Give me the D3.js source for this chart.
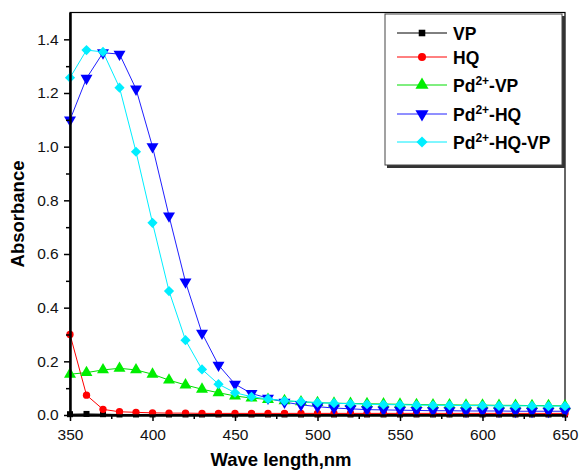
<!DOCTYPE html>
<html><head><meta charset="utf-8">
<script src="https://cdn.jsdelivr.net/npm/d3@7/dist/d3.min.js"></script>
<style>body{margin:0;background:#fff}svg{display:block}</style>
</head><body><svg id="c" width="580" height="471"></svg>
<script>
const wavelengths = [350,360,370,380,390,400,410,420,430,440,450,460,470,480,490,500,510,520,530,540,550,560,570,580,590,600,610,620,630,640,650];
const vp      = [0.003,0.004,0.003,0.002,0.002,0.002,0.002,0.002,0.002,0.002,0.002,0.002,0.002,0.002,0.002,0.002,0.002,0.002,0.002,0.002,0.002,0.002,0.002,0.002,0.002,0.002,0.002,0.002,0.002,0.002,0.002];
const hq      = [0.30,0.074,0.021,0.012,0.010,0.008,0.007,0.007,0.006,0.006,0.006,0.006,0.006,0.006,0.006,0.006,0.006,0.006,0.006,0.006,0.006,0.006,0.006,0.006,0.006,0.006,0.006,0.006,0.006,0.006,0.006];
const pdVp    = [0.152,0.158,0.168,0.174,0.168,0.152,0.130,0.112,0.096,0.083,0.071,0.063,0.058,0.053,0.049,0.046,0.044,0.043,0.042,0.041,0.040,0.039,0.038,0.038,0.037,0.037,0.036,0.036,0.035,0.035,0.034];
const pdHq    = [1.10,1.255,1.35,1.345,1.215,1.00,0.742,0.496,0.305,0.186,0.115,0.080,0.063,0.048,0.038,0.031,0.026,0.023,0.020,0.019,0.018,0.017,0.016,0.016,0.015,0.015,0.015,0.014,0.014,0.014,0.014];
const pdHqVp  = [1.257,1.36,1.353,1.22,0.981,0.716,0.462,0.279,0.170,0.115,0.083,0.068,0.060,0.053,0.050,0.046,0.044,0.042,0.040,0.039,0.038,0.037,0.036,0.036,0.035,0.035,0.034,0.034,0.034,0.033,0.033];
const seriesNames = ["VP","HQ","Pd2+-VP","Pd2+-HQ","Pd2+-HQ-VP"];
const xTicks = [350,400,450,500,550,600,650];
const yTicks = [0.0,0.2,0.4,0.6,0.8,1.0,1.2,1.4];

const series = [
  {name:seriesNames[0], vals:vp, color:"#000000", line:"#000000", sym:d3.symbolSquare, size:36, rot:0},
  {name:seriesNames[1], vals:hq, color:"#ff0000", line:"#ff0000", sym:d3.symbolCircle, size:42, rot:0},
  {name:seriesNames[2], vals:pdVp, color:"#00ee00", line:"#00dd00", sym:d3.symbolTriangle, size:62, rot:0},
  {name:seriesNames[3], vals:pdHq, color:"#0000ff", line:"#2020ff", sym:d3.symbolTriangle, size:62, rot:180},
  {name:seriesNames[4], vals:pdHqVp, color:"#00eeff", line:"#00eeff", sym:d3.symbolSquare, size:52, rot:45}
];

const svg = d3.select("#c");
const L=70, R=565, T=12.5, B=415;
const x = d3.scaleLinear().domain([350,650]).range([L,R]);
const y = d3.scaleLinear().domain([0,1.5]).range([B,T]);
const font = "'Liberation Sans', Arial, sans-serif";

svg.append("rect").attr("x",L).attr("y",T).attr("width",R-L).attr("height",B-T)
  .attr("fill","none").attr("stroke","#000").attr("stroke-width",1.2);

const g = svg.append("g");
series.forEach(s=>{
  const line = d3.line().x((d,i)=>x(wavelengths[i])).y(d=>y(d));
  g.append("path").datum(s.vals).attr("d",line).attr("fill","none").attr("stroke",s.line).attr("stroke-width",1);
});
series.forEach(s=>{
  const sym = d3.symbol().type(s.sym).size(s.size);
  g.selectAll(null).data(s.vals).enter().append("path")
    .attr("d", sym())
    .attr("transform",(d,i)=>`translate(${x(wavelengths[i])},${y(d)}) rotate(${s.rot})`)
    .attr("fill",s.color);
});

const xAxis = svg.append("g").attr("transform",`translate(0,${B})`)
  .call(d3.axisBottom(x).tickValues(xTicks).tickSize(6).tickSizeOuter(0).tickFormat(d3.format("d")));
const xMinor = svg.append("g").attr("transform",`translate(0,${B})`)
  .call(d3.axisBottom(x).tickValues(d3.range(375,650,50)).tickSize(4).tickSizeOuter(0).tickFormat(""));
const yAxis = svg.append("g").attr("transform",`translate(${L},0)`)
  .call(d3.axisLeft(y).tickValues(yTicks).tickSize(6).tickSizeOuter(0).tickFormat(d3.format(".1f")));
const yMinor = svg.append("g").attr("transform",`translate(${L},0)`)
  .call(d3.axisLeft(y).tickValues(d3.range(0.1,1.5,0.2)).tickSize(4).tickSizeOuter(0).tickFormat(""));
[xAxis,xMinor,yAxis,yMinor].forEach(a=>{
  a.select(".domain").attr("stroke","#000").attr("stroke-width",2);
  a.selectAll(".tick line").attr("stroke","#000").attr("stroke-width",1.5);
  a.selectAll("text").attr("font-family",font).attr("font-size",15.5).attr("fill","#111");
});
xAxis.selectAll("text").attr("dy","1.0em");
yAxis.selectAll("text").attr("dx","-0.15em");

svg.append("text").attr("x",281).attr("y",466).attr("text-anchor","middle")
  .attr("font-family",font).attr("font-weight","bold").attr("font-size",18.5).text("Wave length,nm");
svg.append("text").attr("transform","translate(24,214) rotate(-90)").attr("text-anchor","middle")
  .attr("font-family",font).attr("font-weight","bold").attr("font-size",18.5).text("Absorbance");

const lg = svg.append("g");
lg.append("rect").attr("x",387).attr("y",16).attr("width",178).attr("height",152).attr("fill","#333");
lg.append("rect").attr("x",385).attr("y",14).attr("width",177).attr("height",151).attr("fill","#fff").attr("stroke","#444").attr("stroke-width",1);
const rows = [33,57,85,114,142];
series.forEach((s,i)=>{
  const yy = rows[i];
  lg.append("line").attr("x1",397).attr("x2",447).attr("y1",yy).attr("y2",yy).attr("stroke",s.line).attr("stroke-width",1);
  lg.append("path").attr("d", d3.symbol().type(s.sym).size(s.size*1.2)())
    .attr("transform",`translate(422,${yy}) rotate(${s.rot})`).attr("fill",s.color);
  const t = lg.append("text").attr("x",453).attr("y",yy+6.5).attr("font-family",font).attr("font-weight","bold").attr("font-size",17.5);
  if (s.name.startsWith("Pd2+")) {
    t.append("tspan").text("Pd");
    t.append("tspan").attr("dy",-7).attr("font-size",12).text("2+");
    t.append("tspan").attr("dy",7).text(s.name.slice(4));
  } else t.text(s.name);
});
</script></body></html>
